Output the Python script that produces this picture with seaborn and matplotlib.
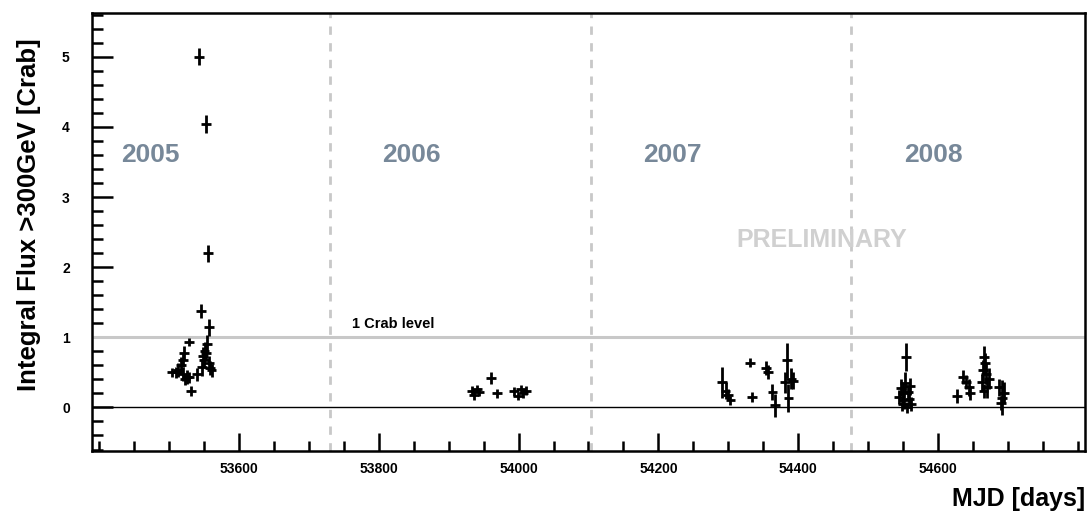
import numpy as np
import pandas as pd
import matplotlib
matplotlib.use("Agg")
import matplotlib.pyplot as plt
import seaborn as sns
from matplotlib.ticker import MultipleLocator, FixedLocator

mjd_2005 = [53543, 53553, 53556, 53546, 53557, 53529, 53521, 53520, 53517, 53513, 53510, 53504,
            53520, 53526, 53529, 53531, 53523, 53540, 53547, 53551, 53554, 53549, 53559, 53557,
            53550, 53561, 53553]
flux_2005 = [5.0, 4.04, 2.2, 1.38, 1.14, 0.93, 0.77, 0.67, 0.6, 0.53, 0.5, 0.5,
             0.48, 0.44, 0.43, 0.24, 0.4, 0.47, 0.57, 0.81, 0.91, 0.74, 0.56, 0.63,
             0.68, 0.53, 0.78]
err_2005 = [0.12, 0.13, 0.12, 0.1, 0.12, 0.06, 0.1, 0.1, 0.12, 0.1, 0.08, 0.06,
            0.1, 0.1, 0.08, 0.07, 0.08, 0.09, 0.12, 0.12, 0.12, 0.12, 0.1, 0.1,
            0.12, 0.09, 0.1]

mjd_2006 = [53933, 53936, 53940, 53943, 53961, 53969, 53994, 53999, 54003, 54007, 54011]
flux_2006 = [0.24, 0.18, 0.26, 0.22, 0.42, 0.2, 0.23, 0.16, 0.26, 0.2, 0.24]
err_2006 = [0.06, 0.07, 0.06, 0.06, 0.08, 0.06, 0.06, 0.06, 0.06, 0.07, 0.06]

mjd_2007 = [54291, 54296, 54299, 54303, 54331, 54334, 54354, 54357, 54363, 54367,
            54381, 54384, 54386, 54390, 54393]
flux_2007 = [0.36, 0.24, 0.18, 0.1, 0.64, 0.15, 0.56, 0.5, 0.22, 0.03,
             0.36, 0.67, 0.13, 0.41, 0.38]
err_2007 = [0.22, 0.12, 0.08, 0.06, 0.07, 0.07, 0.1, 0.1, 0.12, 0.16,
            0.15, 0.25, 0.2, 0.15, 0.12]

mjd_2008 = [54544, 54547, 54549, 54550, 54551, 54553, 54554, 54556, 54557, 54559, 54560, 54561,
            54627, 54636, 54640, 54644, 54646, 54663, 54664, 54666, 54667, 54669, 54670, 54665,
            54673, 54687, 54690, 54691, 54694]
flux_2008 = [0.15, 0.28, 0.05, 0.2, 0.1, 0.35, 0.72, 0.0, 0.22, 0.12, 0.3, 0.05,
             0.17, 0.43, 0.36, 0.29, 0.2, 0.36, 0.53, 0.72, 0.63, 0.48, 0.29, 0.24,
             0.41, 0.29, 0.07, 0.14, 0.21]
err_2008 = [0.1, 0.12, 0.1, 0.15, 0.12, 0.15, 0.2, 0.08, 0.1, 0.1, 0.12, 0.1,
            0.1, 0.1, 0.1, 0.12, 0.1, 0.12, 0.15, 0.15, 0.15, 0.15, 0.15, 0.1,
            0.15, 0.12, 0.1, 0.25, 0.15]

year_labels = ["2005", "2006", "2007", "2008"]
year_label_mjd = [53473, 53847, 54220, 54594]
year_boundaries = [53730, 54103, 54476]
x_tick_values = [53600, 53800, 54000, 54200, 54400, 54600]

df = pd.DataFrame({
    "mjd": mjd_2005 + mjd_2006 + mjd_2007 + mjd_2008,
    "flux": flux_2005 + flux_2006 + flux_2007 + flux_2008,
    "err": err_2005 + err_2006 + err_2007 + err_2008,
})

sns.set_style("ticks")
plt.rcParams["font.family"] = ["Liberation Sans", "DejaVu Sans"]
plt.rcParams["font.weight"] = "bold"
plt.rcParams["text.color"] = "black"
plt.rcParams["axes.labelcolor"] = "black"
plt.rcParams["xtick.color"] = "black"
plt.rcParams["ytick.color"] = "black"

fig = plt.figure(figsize=(10.89, 5.21), dpi=100)
ax = fig.add_axes([0.0845, 0.1345, 0.9118, 0.8400])

# reference lines
ax.axhline(1, color="#c8c8c8", lw=2.2, zorder=1)
ax.axhline(0, color="black", lw=1, zorder=1)
for b in year_boundaries:
    ax.axvline(b, color="#c8c8c8", lw=2, ls=(0, (3, 3)), zorder=1)

ax.errorbar(df["mjd"], df["flux"], yerr=df["err"], xerr=7,
            fmt="none", ecolor="black", elinewidth=2.0, capsize=0, zorder=3)

for lab, x in zip(year_labels, year_label_mjd):
    ax.text(x, 3.6, lab, color="#778899", fontsize=19, fontweight="bold",
            ha="center", va="center")
ax.text(54434, 2.39, "PRELIMINARY", color="#d0d0d0", fontsize=18,
        fontweight="bold", ha="center", va="center")
ax.text(53820, 1.19, "1 Crab level", color="black", fontsize=10.5,
        fontweight="bold", ha="center", va="center")

ax.set_xlim(53390, 54810)
ax.set_ylim(-0.62, 5.62)
ax.xaxis.set_major_locator(FixedLocator(x_tick_values))
ax.xaxis.set_minor_locator(MultipleLocator(50))
ax.yaxis.set_major_locator(MultipleLocator(1))
ax.yaxis.set_minor_locator(MultipleLocator(0.2))
ax.tick_params(which="both", direction="in", top=False, right=False, width=1.8,
               labelsize=10, colors="black")
ax.tick_params(axis="x", which="major", length=13, pad=8)
ax.tick_params(axis="x", which="minor", length=7)
ax.tick_params(axis="y", which="major", length=15, pad=16)
ax.tick_params(axis="y", which="minor", length=8)
for lbl in ax.get_xticklabels() + ax.get_yticklabels():
    lbl.set_fontweight("bold")
for sp in ax.spines.values():
    sp.set_linewidth(1.8)
    sp.set_color("black")

ax.set_xlabel("MJD [days]", fontsize=18, fontweight="bold", loc="right", labelpad=8,
              color="black")
ax.set_ylabel("Integral Flux >300GeV [Crab]", fontsize=18.5, fontweight="bold",
              color="black")
ax.yaxis.set_label_coords(-0.051, 0.541)

fig.savefig("out.png", dpi=100)
